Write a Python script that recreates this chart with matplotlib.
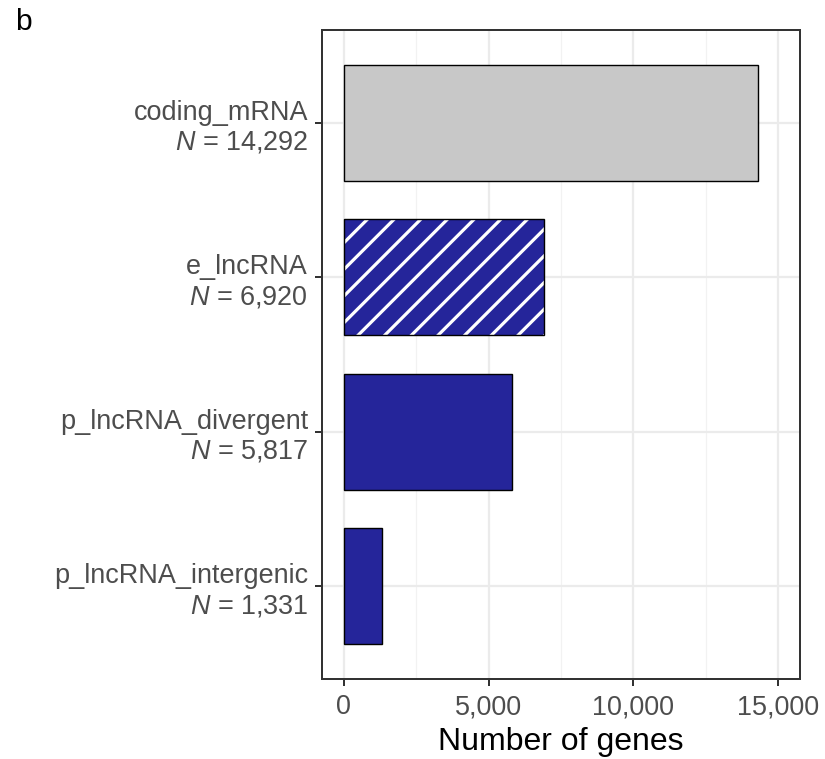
import numpy as np
import matplotlib
matplotlib.use("Agg")
import matplotlib.pyplot as plt
from matplotlib.ticker import FuncFormatter, MultipleLocator

# data
categories = ["coding_mRNA", "e_lncRNA", "p_lncRNA_divergent", "p_lncRNA_intergenic"]
counts = [14292, 6920, 5817, 1331]
colors = ["#C8C8C8", "#25259A", "#25259A", "#25259A"]
hatched = [False, True, False, False]

DPI = 160
px = 72 / DPI  # points per pixel

plt.rcParams["font.family"] = ["Liberation Sans", "DejaVu Sans"]
plt.rcParams["mathtext.fontset"] = "custom"
plt.rcParams["mathtext.rm"] = "Liberation Sans"
plt.rcParams["mathtext.it"] = "Liberation Sans:italic"
plt.rcParams["hatch.linewidth"] = 3.2 * px

fig = plt.figure(figsize=(825 / DPI, 759 / DPI), dpi=DPI)
ax = fig.add_axes([322 / 825, 1 - 679 / 759, (800 - 322) / 825, (679 - 30) / 759])

ypos = np.arange(len(categories))[::-1] + 1

for y, v, c, h in zip(ypos, counts, colors, hatched):
    if h:
        ax.barh(y, v, height=0.75, color=c, edgecolor="white", linewidth=0, hatch="//", zorder=3)
        ax.barh(y, v, height=0.75, fill=False, edgecolor="black", linewidth=1.4 * px, zorder=4)
    else:
        ax.barh(y, v, height=0.75, color=c, edgecolor="black", linewidth=1.4 * px, zorder=3)

ax.set_xlim(-750, 15750)
ax.set_ylim(0.4, len(categories) + 0.6)

ax.xaxis.set_minor_locator(MultipleLocator(2500))
ax.xaxis.set_major_formatter(FuncFormatter(lambda x, p: f"{int(x):,}"))
ax.set_xticks(np.arange(0, 15001, 5000))

labels = [f"{c}\n$N$ = {n:,}" for c, n in zip(categories, counts)]
ax.set_yticks(ypos)
ax.set_yticklabels(labels)

ax.grid(True, which="major", color="#EBEBEB", linewidth=2.2 * px, zorder=0)
ax.grid(True, which="minor", axis="x", color="#F2F2F2", linewidth=1.2 * px, zorder=0)
ax.set_axisbelow(True)

ax.tick_params(axis="both", which="major", length=7 * px, width=2 * px, color="#333333",
               labelsize=27 * px, labelcolor="#4D4D4D", pad=7 * px)
ax.tick_params(axis="x", which="major", pad=8 * px)
ax.tick_params(axis="x", which="minor", length=0)
for s in ax.spines.values():
    s.set_color("#333333")
    s.set_linewidth(2 * px)

ax.set_xlabel("Number of genes", fontsize=32 * px, color="black", labelpad=7 * px)
fig.text(15 / 825, 1 - 22 / 759, "b", fontsize=30 * px, ha="left", va="center")

fig.savefig("out.png", dpi=DPI)
